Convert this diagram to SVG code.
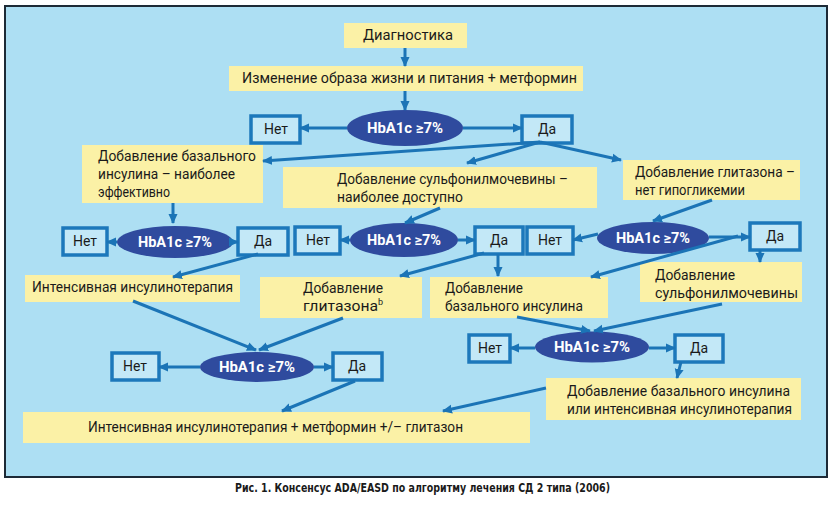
<svg xmlns="http://www.w3.org/2000/svg" width="832" height="511" viewBox="0 0 832 511">
<defs>
<marker id="ah" markerUnits="userSpaceOnUse" markerWidth="10" markerHeight="10" viewBox="0 0 10 10" refX="9" refY="5" orient="auto">
<path d="M0,0.5 L10,5 L0,9.5 z" fill="#1b74b6"/>
</marker>
<style>
.t{font-family:Roboto,"Liberation Sans",sans-serif;font-size:14px;fill:#1a1a1a}
.e{font-family:Roboto,"Liberation Sans",sans-serif;font-size:14.5px;font-weight:bold;fill:#ffffff;text-anchor:middle}
.y{fill:#fbf1a6}
.b{fill:#c3e8f7;stroke:#1c78bb;stroke-width:3.5}
.o{fill:#2f4b9e}
.c path{fill:none;stroke:#1b74b6;stroke-width:3;marker-end:url(#ah)}
.m{text-anchor:middle}
</style>
</defs>
<rect x="0" y="0" width="832" height="511" fill="#ffffff"/>
<rect x="5" y="6" width="822" height="471" fill="#addff3" stroke="#1d2a36" stroke-width="2"/>

<g id="diag"><rect class="y" x="344" y="23" width="123" height="25"/><text class="t" x="363" y="40" textLength="90" lengthAdjust="spacingAndGlyphs">Диагностика</text></g>
<g id="lifestyle"><rect class="y" x="229" y="66" width="354" height="25"/><text class="t" x="242" y="83" textLength="335" lengthAdjust="spacingAndGlyphs">Изменение образа жизни и питания + метформин</text></g>

<g id="hb1"><ellipse class="o" cx="405" cy="128" rx="58" ry="18"/><text class="e" x="405" y="133" textLength="76" lengthAdjust="spacingAndGlyphs">HbA1c ≥7%</text></g>
<g id="no1"><rect class="b" x="251" y="116" width="49" height="27"/><text class="t m" x="276" y="134">Нет</text></g>
<g id="yes1"><rect class="b" x="522" y="116" width="50" height="27"/><text class="t m" x="547" y="134">Да</text></g>

<g id="basal1"><rect class="y" x="82" y="145" width="181" height="58"/>
<text class="t" x="98" y="161" textLength="158" lengthAdjust="spacingAndGlyphs">Добавление базального</text>
<text class="t" x="98" y="179" textLength="137" lengthAdjust="spacingAndGlyphs">инсулина – наиболее</text>
<text class="t" x="98" y="197" textLength="72" lengthAdjust="spacingAndGlyphs">эффективно</text></g>

<g id="sulf1"><rect class="y" x="283" y="167" width="314" height="41"/>
<text class="t" x="337" y="184" textLength="231" lengthAdjust="spacingAndGlyphs">Добавление сульфонилмочевины –</text>
<text class="t" x="337" y="202" textLength="126" lengthAdjust="spacingAndGlyphs">наиболее доступно</text></g>

<g id="glit1"><rect class="y" x="623" y="160" width="177" height="40"/>
<text class="t" x="635" y="177" textLength="160" lengthAdjust="spacingAndGlyphs">Добавление глитазона –</text>
<text class="t" x="635" y="195" textLength="110" lengthAdjust="spacingAndGlyphs">нет гипогликемии</text></g>

<g id="hbL2"><ellipse class="o" cx="175" cy="242" rx="58" ry="16"/><text class="e" x="175" y="247" textLength="74" lengthAdjust="spacingAndGlyphs">HbA1c ≥7%</text></g>
<g id="noL2"><rect class="b" x="63" y="228" width="44" height="27"/><text class="t m" x="85" y="246">Нет</text></g>
<g id="yesL2"><rect class="b" x="238" y="228" width="50" height="27"/><text class="t m" x="263" y="246">Да</text></g>

<g id="hbC2"><ellipse class="o" cx="404" cy="240" rx="54" ry="17"/><text class="e" x="404" y="245" textLength="74" lengthAdjust="spacingAndGlyphs">HbA1c ≥7%</text></g>
<g id="noC2"><rect class="b" x="295" y="227" width="45" height="27"/><text class="t m" x="318" y="245">Нет</text></g>
<g id="yesC2"><rect class="b" x="475" y="227" width="48" height="27"/><text class="t m" x="499" y="245">Да</text></g>

<g id="hbR2"><ellipse class="o" cx="653" cy="238" rx="56" ry="16"/><text class="e" x="653" y="243" textLength="74" lengthAdjust="spacingAndGlyphs">HbA1c ≥7%</text></g>
<g id="noR2"><rect class="b" x="527" y="227" width="46" height="27"/><text class="t m" x="550" y="245">Нет</text></g>
<g id="yesR2"><rect class="b" x="750" y="223" width="50" height="27"/><text class="t m" x="775" y="241">Да</text></g>

<g id="intens1"><rect class="y" x="25" y="275" width="215" height="27"/><text class="t" x="32" y="292" textLength="201" lengthAdjust="spacingAndGlyphs">Интенсивная инсулинотерапия</text></g>

<g id="glit2"><rect class="y" x="260" y="277" width="162" height="41"/>
<text class="t" x="303" y="293" textLength="80" lengthAdjust="spacingAndGlyphs">Добавление</text>
<text class="t" x="303" y="311"><tspan textLength="75" lengthAdjust="spacingAndGlyphs">глитазона</tspan><tspan font-size="9" dy="-6">b</tspan></text></g>

<g id="basal2"><rect class="y" x="430" y="277" width="178" height="41"/>
<text class="t" x="445" y="293" textLength="78" lengthAdjust="spacingAndGlyphs">Добавление</text>
<text class="t" x="445" y="311" textLength="138" lengthAdjust="spacingAndGlyphs">базального инсулина</text></g>

<g id="sulf2"><rect class="y" x="640" y="262" width="162" height="40"/>
<text class="t" x="655" y="280" textLength="80" lengthAdjust="spacingAndGlyphs">Добавление</text>
<text class="t" x="655" y="298" textLength="143" lengthAdjust="spacingAndGlyphs">сульфонилмочевины</text></g>

<g id="hbL3"><ellipse class="o" cx="257" cy="367" rx="57" ry="15"/><text class="e" x="257" y="372" textLength="76" lengthAdjust="spacingAndGlyphs">HbA1c ≥7%</text></g>
<g id="noL3"><rect class="b" x="112" y="353" width="47" height="27"/><text class="t m" x="135" y="371">Нет</text></g>
<g id="yesL3"><rect class="b" x="333" y="353" width="49" height="27"/><text class="t m" x="357" y="371">Да</text></g>

<g id="hbR3"><ellipse class="o" cx="592" cy="347" rx="57" ry="15.5"/><text class="e" x="592" y="352" textLength="76" lengthAdjust="spacingAndGlyphs">HbA1c ≥7%</text></g>
<g id="noR3"><rect class="b" x="469" y="335" width="41" height="27"/><text class="t m" x="490" y="353">Нет</text></g>
<g id="yesR3"><rect class="b" x="675" y="335" width="48" height="27"/><text class="t m" x="699" y="353">Да</text></g>

<g id="final"><rect class="y" x="23" y="412" width="507" height="31"/><text class="t" x="88" y="432" textLength="375" lengthAdjust="spacingAndGlyphs">Интенсивная инсулинотерапия + метформин +/– глитазон</text></g>

<g id="final2"><rect class="y" x="546" y="378" width="255" height="42"/>
<text class="t" x="567" y="396" textLength="223" lengthAdjust="spacingAndGlyphs">Добавление базального инсулина</text>
<text class="t" x="567" y="414" textLength="225" lengthAdjust="spacingAndGlyphs">или интенсивная инсулинотерапия</text></g>

<g id="connectors" class="c">
<path d="M405,48 L405,66"/>
<path d="M405,91 L405,110"/>
<path d="M347,128 L300,128"/>
<path d="M463,128 L522,128"/>
<path d="M540,142 L263,161"/>
<path d="M540,142 L467,163"/>
<path d="M540,142 L621,160"/>
<path d="M173,203 L173,223"/>
<path d="M117,242 L107,242"/>
<path d="M231,242 L238,242"/>
<path d="M440,208 L405,223"/>
<path d="M350,240 L340,240"/>
<path d="M458,240 L475,240"/>
<path d="M712,200 L653,221"/>
<path d="M598,234 L573,240"/>
<path d="M709,237 L750,237"/>
<path d="M738,236 L591,277"/>
<path d="M760,250 L760,262"/>
<path d="M258,254 L173,277"/>
<path d="M484,253 L400,276"/>
<path d="M498,254 L498,276"/>
<path d="M133,301 L256,350"/>
<path d="M343,318 L259,350"/>
<path d="M200,367 L159,367"/>
<path d="M314,367 L333,367"/>
<path d="M355,381 L282,411"/>
<path d="M517,317 L590,331"/>
<path d="M722,304 L594,331"/>
<path d="M535,348 L510,348"/>
<path d="M649,348 L675,348"/>
<path d="M681,362 L677,378"/>
<path d="M546,388 L443,411"/>
</g>

<text x="235" y="492" font-family="'DejaVu Sans Condensed','Liberation Sans',sans-serif" font-stretch="condensed" font-weight="bold" font-size="12" fill="#1a1a1a" textLength="375" lengthAdjust="spacingAndGlyphs">Рис. 1. Консенсус ADA/EASD по алгоритму лечения СД 2 типа (2006)</text>
</svg>
